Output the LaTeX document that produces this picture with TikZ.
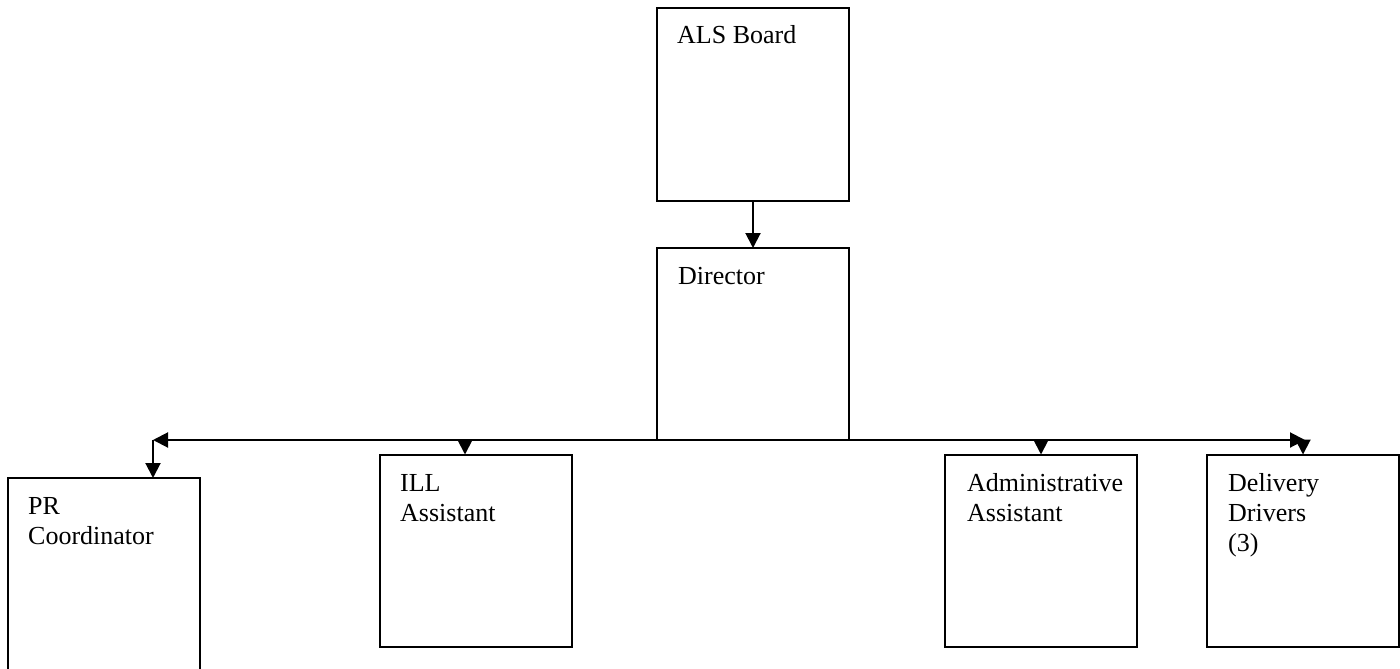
\documentclass[tikz,border=0pt]{standalone}
\usepackage{fontspec}
\setmainfont{Liberation Serif}
\usetikzlibrary{arrows.meta}
\newcommand{\boxtext}[1]{\parbox[t]{170pt}{\raggedright #1}}
\begin{document}
\begin{tikzpicture}[x=1pt,y=-1pt,
  tip/.style={Triangle[length=15pt,width=15pt]},
  box/.style={draw=black,line width=2pt,minimum width=192pt,minimum height=192pt,inner sep=0pt,outer sep=0pt},
  lbl/.style={anchor=base west,inner sep=0pt,font=\fontsize{26}{30}\selectfont},
  conn/.style={line width=2pt,-{Triangle[length=15pt,width=15pt]}},
  link/.style={line width=2pt}]
\useasboundingbox (0,0) rectangle (1400,669);
\clip (0,0) rectangle (1400,669);

% boxes (centres)
\node[box] (als) at (753,104.5) {};
\node[box] (dir) at (753,344) {};
\node[box,minimum height=210pt] (pr) at (103.5,583) {};
\node[box] (ill) at (475.5,550.5) {};
\node[box] (adm) at (1041,550.5) {};
\node[box] (drv) at (1303,550.5) {};

% labels
\node[lbl] (alsT) at (677,44) {\boxtext{ALS Board}};
\node[lbl] (dirT) at (678,284) {\boxtext{Director}};
\node[lbl] (prT) at (28,514) {\boxtext{PR\\Coordinator}};
\node[lbl] (illT) at (400,491) {\boxtext{ILL\\Assistant}};
\node[lbl] (admT) at (967,491) {\boxtext{Administrative\\Assistant}};
\node[lbl] (drvT) at (1228,491) {\boxtext{Delivery\\Drivers\\(3)}};

% connectors
\draw[conn] (als.south) -- (dir.north);
\coordinate (hl) at (153,440);
\coordinate (hr) at (1305,440);
\draw[link,{Triangle[length=15pt,width=15pt]}-{Triangle[length=15pt,width=15pt]}] (hl) -- (hr);
\draw[conn] (hl) -- (hl |- pr.north);
\coordinate (hi) at (465,440);
\draw[conn] (hi) -- (hi |- ill.north);
\draw[conn] (adm.north |- hl) -- (adm.north);
\draw[conn] (drv.north |- hl) -- (drv.north);
\end{tikzpicture}
\end{document}
